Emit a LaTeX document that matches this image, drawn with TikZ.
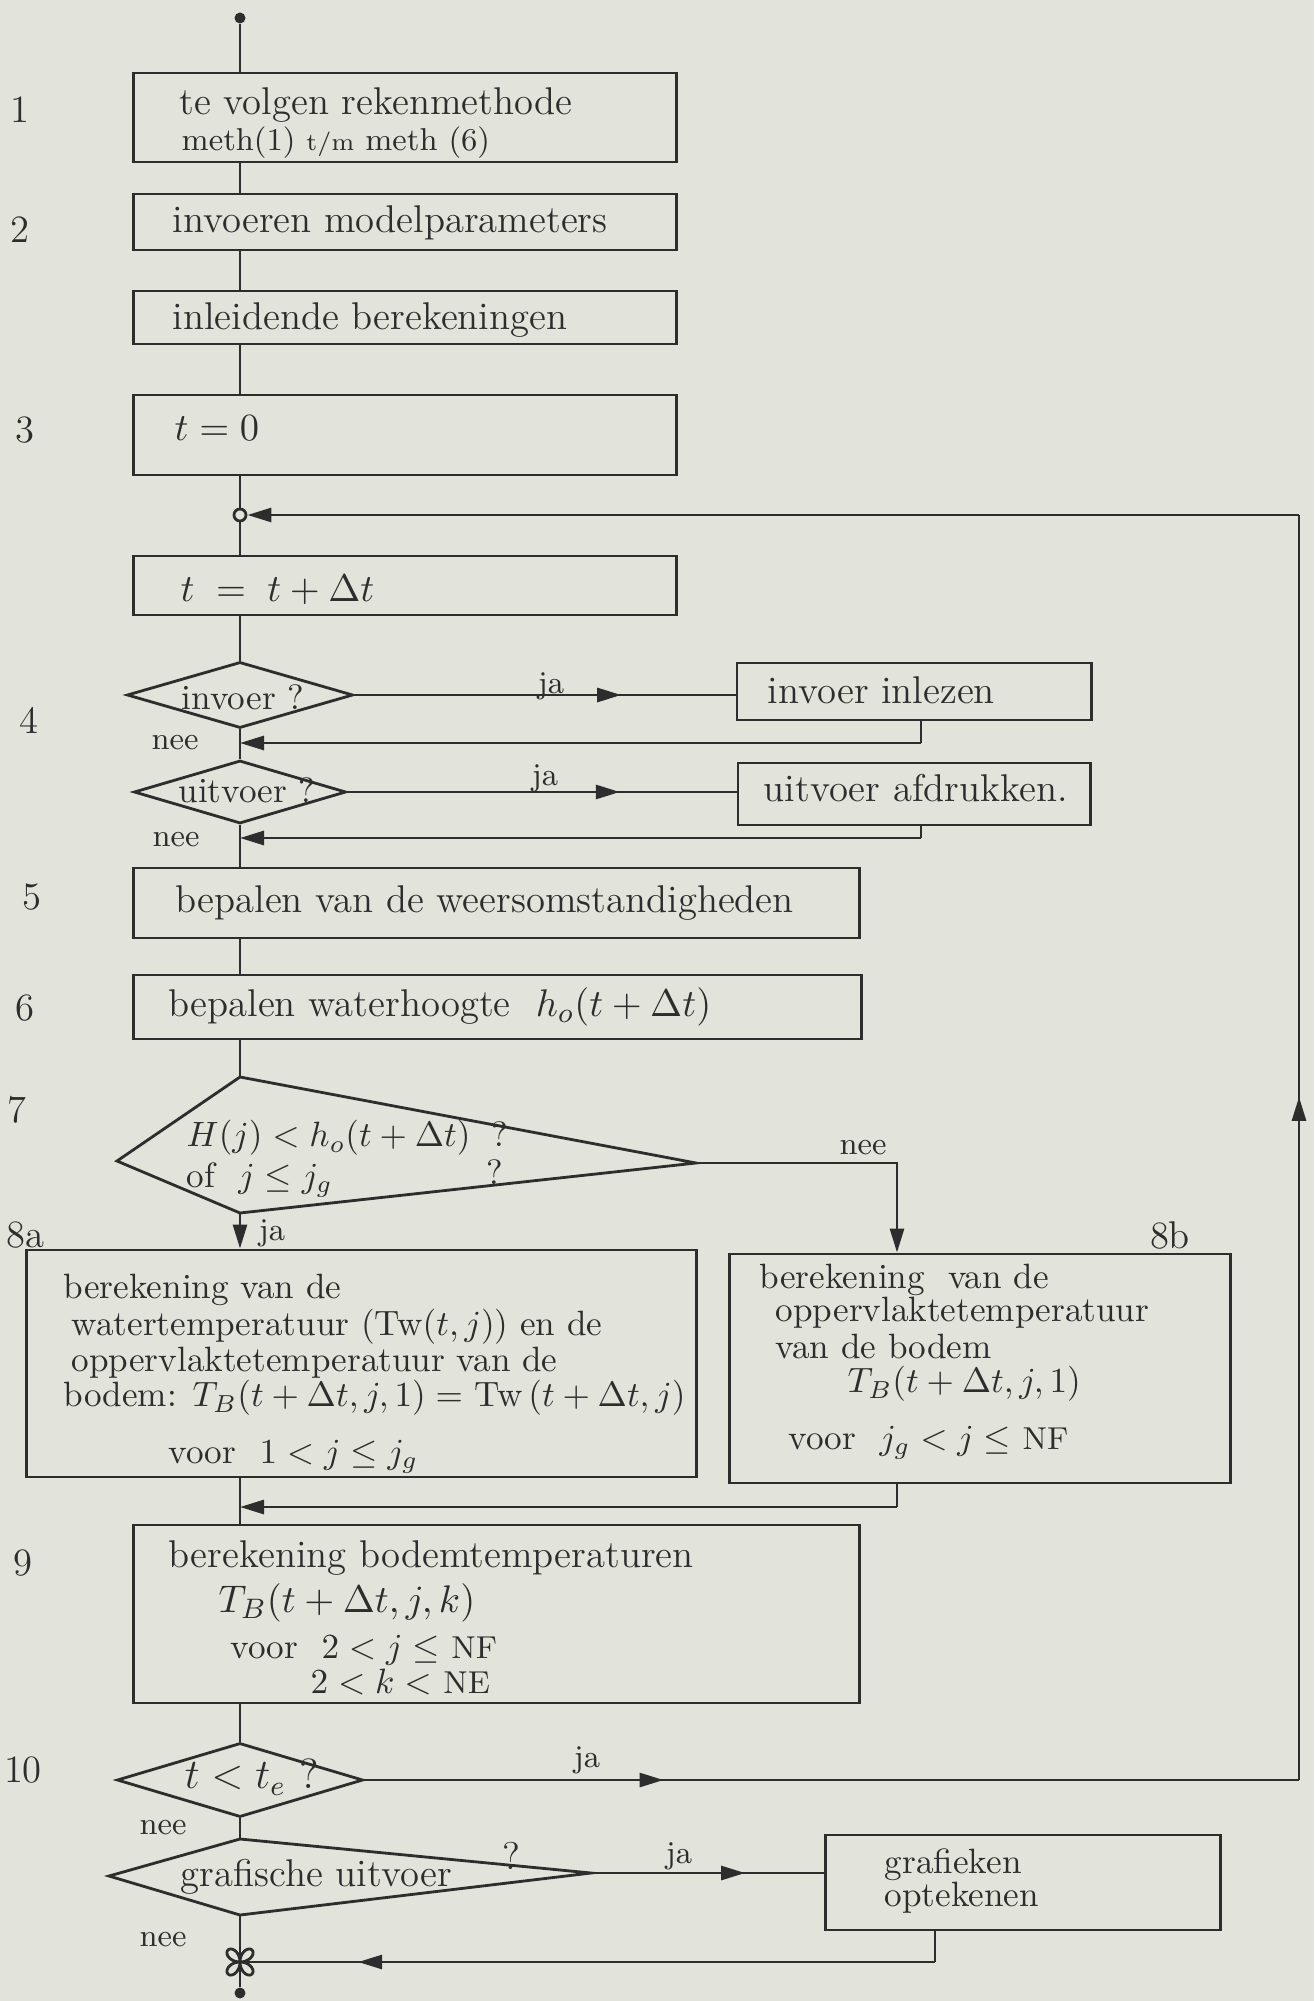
\documentclass[tikz,border=0pt]{standalone}
\usepackage{amsmath,amssymb}
\usetikzlibrary{arrows.meta,shapes.geometric,decorations.markings}
\definecolor{paper}{RGB}{226,228,219}
\definecolor{ink}{RGB}{45,45,45}
\tikzset{>={Triangle[length=2.4mm,width=1.4mm]},every node/.style={font=\fontsize{11}{13}\selectfont,text=ink},
box/.style={draw=ink,line width=.8pt,rectangle,inner sep=0pt},dia/.style={draw=ink,line width=.8pt,diamond,inner sep=0pt},
txt/.style={anchor=west,inner sep=0pt},lab/.style={font=\fontsize{9}{10}\selectfont,inner sep=0pt},
klein/.style={txt,font=\fontsize{10}{11}\selectfont},
dot/.style={circle,fill=ink,inner sep=0pt,minimum size=.11cm},
edge/.style={draw=ink,line width=.8pt},flow/.style={edge,->},
midarrow/.style={edge,postaction={decorate},decoration={markings,mark=at position #1 with {\arrow{Triangle[length=2.4mm,width=1.4mm]}}}}}
\begin{document}
\begin{tikzpicture}[x=0.01cm,y=-0.01cm]
\useasboundingbox (0,0) rectangle (1314,2001);
\fill[paper] (0,0) rectangle (1314,2001);
\foreach \n/\x/\y in {1/20/110,2/20/230,3/25/430,4/29/720,5/32/897,6/25/1008,7/17/1110,8a/25/1235,8b/1170/1235,9/23/1563,10/23/1770}
  \node[inner sep=0pt] (stap\n) at (\x,\y) {\n};
\node[dot] (start) at (240,18) {};
\node[box,minimum width=5.42cm,minimum height=.89cm] (meth) at (405,117.5) {};
\node[txt] (meth1) at (179,105) {te volgen rekenmethode};\node[txt,lab] (meth2) at (181,143) {meth(1) {\scriptsize t/m} meth (6)};
\node[box,minimum width=5.42cm,minimum height=.56cm] (param) at (405,222) {};\node[txt] (paramt) at (172,223) {invoeren modelparameters};
\node[box,minimum width=5.42cm,minimum height=.53cm] (inleid) at (405,317.5) {};\node[txt] (inleidt) at (172,320) {inleidende berekeningen};
\node[box,minimum width=5.42cm,minimum height=.8cm] (tnul) at (405,435) {};\node[txt] (tnult) at (174,428) {$t=0$};
\node[circle,draw=ink,line width=.8pt,inner sep=0pt,minimum size=.12cm] (lus) at (240,515) {};
\node[box,minimum width=5.42cm,minimum height=.59cm] (tplus) at (405,585.5) {};\node[txt] (tplust) at (180,590) {$t\;=\;t+\Delta t$};
\node[dia,minimum width=2.26cm,minimum height=.66cm] (inv) at (240,695) {};\node[font=\fontsize{10}{11}\selectfont] (invt) at (243,697) {invoer ?};
\node[box,minimum width=3.54cm,minimum height=.57cm] (inlez) at (914,691.5) {};\node[txt] (inlezt) at (767,690) {invoer inlezen};
\node[dia,minimum width=2.12cm,minimum height=.63cm] (uit) at (240,792) {};\node[font=\fontsize{10}{11}\selectfont] (uitt) at (247,790) {uitvoer ?};
\node[box,minimum width=3.52cm,minimum height=.62cm] (afdr) at (914,794) {};\node[txt] (afdrt) at (763,788) {uitvoer afdrukken.};
\node[box,minimum width=7.25cm,minimum height=.7cm] (weer) at (496.5,903) {};\node[txt] (weert) at (175,903) {bepalen van de weersomstandigheden};
\node[box,minimum width=7.27cm,minimum height=.64cm] (hoogte) at (497.5,1007) {};\node[txt] (hoogtet) at (168,1007) {bepalen waterhoogte \ $h_o(t+\Delta t)$};
\coordinate (k7t) at (240,1077);\coordinate (k7l) at (117,1161);\coordinate (k7b) at (240,1213);\coordinate (k7r) at (696,1163);
\draw[edge] (k7t) -- (k7r) -- (k7b) -- (k7l) -- cycle;
\node[klein] (k7x) at (186,1138) {$H(j) < h_o(t+\Delta t)$};\node[inner sep=0pt,font=\fontsize{10}{11}\selectfont] (k7q1) at (500,1134) {?};
\node[klein] (k7y) at (186,1180) {of \ $j \le j_g$};\node[inner sep=0pt,font=\fontsize{10}{11}\selectfont] (k7q2) at (495,1172) {?};
\node[box,minimum width=6.69cm,minimum height=2.27cm] (warm) at (361.5,1363.5) {};
\node[klein] (warm1) at (63,1290) {berekening van de};
\node[klein] (warm2) at (71,1327) {watertemperatuur (Tw$(t,j)$) en de};
\node[klein] (warm3) at (71,1363) {oppervlaktetemperatuur van de};
\node[klein] (warm4) at (63,1398) {bodem: $T_B(t+\Delta t,j,1) =$ Tw$\,(t+\Delta t,j)$};
\node[klein] (warm5) at (168,1457) {voor \ $1 < j \le j_g$};
\node[box,minimum width=5.0cm,minimum height=2.29cm] (opp) at (980,1368.5) {};
\node[klein] (opp1) at (759,1280) {berekening \ van de};
\node[klein] (opp2) at (775,1313) {oppervlaktetemperatuur};
\node[klein] (opp3) at (775,1346) {van de bodem};
\node[klein] (opp4) at (847,1384) {$T_B(t+\Delta t,j,1)$};
\node[klein] (opp5) at (788,1443) {voor \ $j_g < j \le$ {\small NF}};
\node[box,minimum width=7.25cm,minimum height=1.78cm] (bodem) at (496.5,1614) {};
\node[txt] (bodem1) at (168,1558) {berekening bodemtemperaturen};
\node[txt] (bodem2) at (218,1603) {$T_B(t+\Delta t,j,k)$};
\node[klein] (bodem3) at (230,1650) {voor \ $2 < j \le$ {\small NF}};
\node[klein] (bodem4) at (310,1682) {$2 < k <$ {\small NE}};
\node[dia,minimum width=2.46cm,minimum height=.74cm] (tmax) at (240,1780) {};\node (tmaxt) at (252,1777) {\large $t < t_e$ ?};
\coordinate (kgt) at (240,1839);\coordinate (kgl) at (109,1876);\coordinate (kgb) at (240,1915);\coordinate (kgr) at (591,1873);
\draw[edge] (kgt) -- (kgr) -- (kgb) -- (kgl) -- cycle;
\node[txt] (kgx) at (180,1877) {grafische uitvoer};\node (kgq) at (511,1856) {?};
\node[box,minimum width=3.94cm,minimum height=.95cm] (graf) at (1023,1882.5) {};
\node[klein] (graf1) at (884,1865) {grafieken};\node[klein] (graf2) at (884,1898) {optekenen};
\coordinate (join) at (240,1962);\node[dot] (eind) at (240,1993) {};
\draw[edge,shift={(join)}] plot[domain=0:360,samples=73,smooth] ({17*sin(2*\x)*cos(\x)},{17*sin(2*\x)*sin(\x)});
\node[lab] (ja4) at (551,686) {ja};\node[lab] (nee4) at (175,743) {nee};
\node[lab] (ja5) at (545,778) {ja};\node[lab] (nee5) at (176,840) {nee};
\node[lab] (nee7) at (863,1148) {nee};\node[lab] (ja7) at (272,1233) {ja};
\node[lab] (ja10) at (587,1760) {ja};\node[lab] (nee10) at (163,1828) {nee};
\node[lab] (jagr) at (679,1856) {ja};\node[lab] (neegr) at (163,1940) {nee};
\draw[edge] (start) -- (start |- meth.north);\draw[edge] (start |- meth.south) -- (start |- param.north);
\draw[edge] (start |- param.south) -- (start |- inleid.north);\draw[edge] (start |- inleid.south) -- (start |- tnul.north);
\draw[edge] (start |- tnul.south) -- (lus);\draw[edge] (lus) -- (start |- tplus.north);
\draw[edge] (start |- tplus.south) -- (inv.north);
\draw[midarrow=.7] (inv.east) -- (inv.east -| inlez.west);
\coordinate (r4) at (921,743);\draw[edge] (r4 |- inlez.south) -- (r4);\draw[flow] (r4) -- (r4 -| start);
\draw[edge] (inv.south) -- (uit.north);
\draw[midarrow=.7] (uit.east) -- (uit.east -| afdr.west);
\coordinate (r5) at (921,838);\draw[edge] (r5 |- afdr.south) -- (r5);\draw[flow] (r5) -- (r5 -| start);
\draw[edge] (uit.south) -- (start |- weer.north);\draw[edge] (start |- weer.south) -- (start |- hoogte.north);
\draw[edge] (start |- hoogte.south) -- (k7t);
\coordinate (c8) at (897,1163);\draw[flow] (k7r) -| (c8 |- opp.north);
\draw[flow] (k7b) -- (k7b |- warm.north);
\draw[edge] (start |- warm.south) -- (start |- bodem.north);
\coordinate (r8) at (897,1507);\draw[edge] (c8 |- opp.south) -- (r8);\draw[flow] (r8) -- (r8 -| start);
\draw[edge] (start |- bodem.south) -- (tmax.north);\draw[edge] (tmax.south) -- (kgt);
\coordinate (fb1) at (1299,1780);\coordinate (fb2) at (1299,515);
\draw[midarrow=.32] (tmax.east) -- (fb1);\draw[midarrow=.54] (fb1) -- (fb2);\draw[flow] (fb2) -- (lus.east);
\draw[midarrow=.66] (kgr) -- (kgr -| graf.west);
\coordinate (rg) at (935,1962);\draw[edge] (rg |- graf.south) -- (rg);\draw[midarrow=.83] (rg) -- (join);
\draw[edge] (kgb) -- (join);\draw[edge] (join) -- (eind);
\end{tikzpicture}
\end{document}
